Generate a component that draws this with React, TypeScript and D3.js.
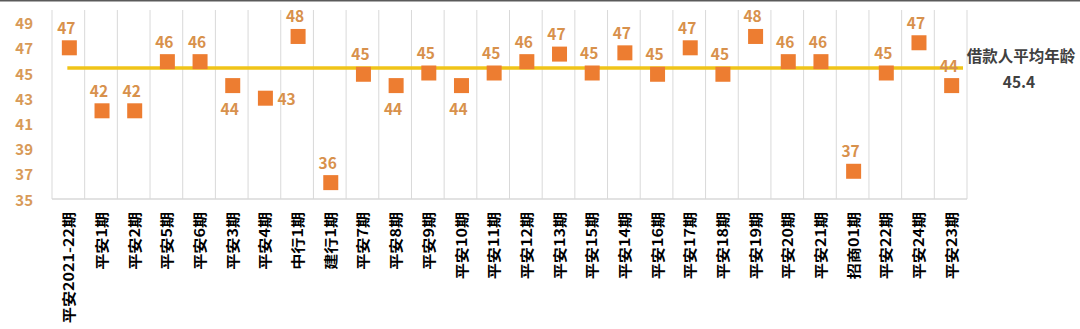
import React from "react";
import * as d3 from "d3";

const categories = [
  "平安2021-22期", "平安1期", "平安2期", "平安5期", "平安6期", "平安3期", "平安4期",
  "中行1期", "建行1期", "平安7期", "平安8期", "平安9期", "平安10期", "平安11期",
  "平安12期", "平安13期", "平安15期", "平安14期", "平安16期", "平安17期", "平安18期",
  "平安19期", "平安20期", "平安21期", "招商01期", "平安22期", "平安24期", "平安23期",
];

const avgAge = [
  47.0, 42.0, 42.0, 45.9, 45.9, 44.0, 43.0, 47.9, 36.3, 44.9, 44.0, 45.0, 44.0, 45.0,
  45.9, 46.5, 45.0, 46.6, 44.9, 47.0, 44.9, 47.9, 45.9, 45.9, 37.2, 45.0, 47.4, 44.0,
];

const overallAvg = 45.4;
const overallLabel = "借款人平均年龄";

const yTicks = [35, 37, 39, 41, 43, 45, 47, 49];

// label placement per point: "a" above, "b" below, "r" right
const labelPlacement = [
  "a", "a", "a", "a", "a", "b", "r", "a", "a", "a", "b", "a", "b", "a",
  "a", "a", "a", "a", "a", "a", "a", "a", "a", "a", "a", "a", "a", "a",
];

const W = 1080;
const H = 329;
const FONT = "'Noto Sans CJK SC', 'Noto Sans', sans-serif";
const LABEL_COLOR = "#D8914C";
const AXIS_COLOR = "#D89A58";
const MARKER_COLOR = "#ED7D31";
const AVG_COLOR = "#F0C419";
const GRID_COLOR = "#D9D9D9";

export default function App() {
  const x = d3.scaleBand<string>().domain(categories).range([52, 967]);
  const y = d3.scaleLinear().domain([35, 50]).range([199, 10]);
  const bw = x.bandwidth();
  const cx = (c: string) => (x(c) as number) + bw / 2;
  const fmt = d3.format(".0f");
  const ms = 15;

  const boundaries = categories.map((c) => x(c) as number).concat([x.range()[1]]);

  return (
    <svg
      width={W}
      height={H}
      style={{ position: "absolute", left: 0, top: 0, background: "#fff", display: "block" }}
    >
      <rect x={0} y={0} width={W} height={H} fill="#fff" />
      <line x1={0} x2={W} y1={0.5} y2={0.5} stroke="#5a5a5a" strokeWidth={2} />

      {/* vertical grid */}
      {boundaries.map((bx, i) => (
        <line key={"g" + i} x1={bx} x2={bx} y1={y(50)} y2={y(35)} stroke={GRID_COLOR} strokeWidth={1} />
      ))}
      <line x1={x.range()[0]} x2={x.range()[1]} y1={y(35)} y2={y(35)} stroke={GRID_COLOR} strokeWidth={1.5} />

      {/* y tick labels */}
      {yTicks.map((t) => (
        <text
          key={"yt" + t}
          x={33}
          y={y(t)}
          textAnchor="end"
          dominantBaseline="central"
          fontFamily={FONT}
          fontWeight="bold"
          fontSize={15}
          fill={AXIS_COLOR}
        >
          {t}
        </text>
      ))}

      {/* average line */}
      <line
        x1={cx(categories[0]) - 1}
        x2={x.range()[1] - 4}
        y1={y(overallAvg)}
        y2={y(overallAvg)}
        stroke={AVG_COLOR}
        strokeWidth={3.5}
      />

      {/* markers */}
      {categories.map((c, i) => (
        <rect
          key={"m" + i}
          x={cx(c) + 1 - ms / 2}
          y={y(avgAge[i]) - ms / 2}
          width={ms}
          height={ms}
          fill={MARKER_COLOR}
        />
      ))}

      {/* data labels */}
      {categories.map((c, i) => {
        const p = labelPlacement[i];
        let lx = cx(c) - 2;
        let ly = y(avgAge[i]) - 21;
        let anchor: "middle" | "start" = "middle";
        if (p === "b") ly = y(avgAge[i]) + 22;
        if (p === "r") {
          lx = cx(c) + 13;
          ly = y(avgAge[i]);
          anchor = "start";
        }
        return (
          <text
            key={"l" + i}
            x={lx}
            y={ly}
            textAnchor={anchor}
            dominantBaseline="central"
            fontFamily={FONT}
            fontWeight="bold"
            fontSize={15.5}
            fill={LABEL_COLOR}
          >
            {fmt(avgAge[i])}
          </text>
        );
      })}

      {/* x labels */}
      {categories.map((c, i) => (
        <text
          key={"x" + i}
          transform={`translate(${cx(c)},${212}) rotate(-90) scale(1.15,1)`}
          textAnchor="end"
          dominantBaseline="central"
          fontFamily={FONT}
          fontWeight="bold"
          fontSize={14}
          fill="#000"
        >
          {c}
        </text>
      ))}

      {/* average annotation */}
      <text x={1021} y={55} textAnchor="middle" dominantBaseline="central" fontFamily={FONT} fontWeight="bold" fontSize={15.5} fill="#404040">
        {overallLabel}
      </text>
      <text x={1019} y={81} textAnchor="middle" dominantBaseline="central" fontFamily={FONT} fontWeight="bold" fontSize={15.5} fill="#404040">
        {overallAvg}
      </text>
    </svg>
  );
}
